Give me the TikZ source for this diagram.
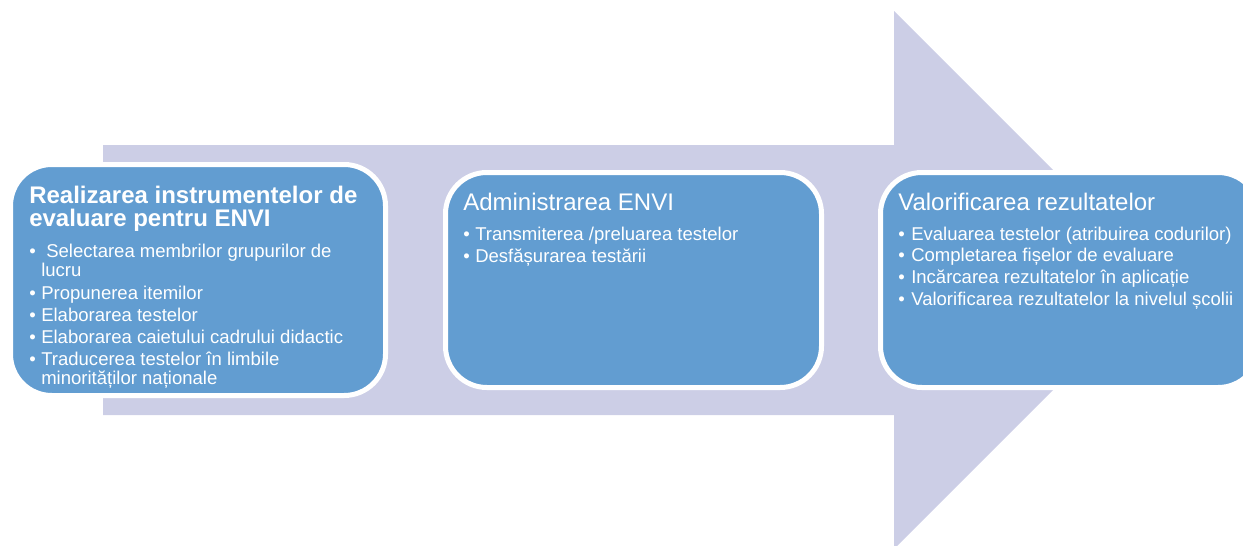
\documentclass[tikz,border=0pt]{standalone}
\usepackage{fontspec}
\setmainfont{Liberation Sans}
\definecolor{lav}{RGB}{204,206,230}
\definecolor{cardblue}{RGB}{98,157,209}
\tikzset{
  arrowfill/.style={fill=lav, draw=none},
  card/.style={rectangle, rounded corners=31pt, fill=cardblue, draw=white, line width=3.75pt, inner sep=0pt},
  ttl/.style={anchor=base west, inner sep=0pt, text=white, font=\fontsize{18pt}{21pt}\selectfont},
  ttlb/.style={ttl, font=\fontsize{18pt}{21pt}\selectfont\bfseries},
  itm/.style={anchor=base west, inner sep=0pt, text=white, font=\fontsize{13.9pt}{16pt}\selectfont},
  bul/.style={itm},
}
\begin{document}
\begin{tikzpicture}[x=0.75pt, y=-0.75pt]
\useasboundingbox (0,0) rectangle (1243,546);
\clip (0,0) rectangle (1243,546);
% big arrow
\path[arrowfill] (103,145) -- (894,145) -- (894,11) -- (1163,280) -- (894,549) -- (894,415) -- (103,415) -- cycle;
% cards
\node[card, minimum width=281.25pt, minimum height=173.25pt] (b1) at (198,280) {};
\node[card, minimum width=282pt, minimum height=161.25pt] (b2) at (633.5,280) {};
\node[card, minimum width=284.25pt, minimum height=161.25pt] (b3) at (1070,280) {};
% card 1
\node[ttlb] (t1a) at (29,203.3) {Realizarea instrumentelor de};
\node[ttlb] (t1b) at (29,226.5) {evaluare pentru ENVI};
\node[bul] (p1a) at (29,257.5) {•};
\node[itm] (i1a) at (46,257.5) {Selectarea membrilor grupurilor de};
\node[itm] (i1a2) at (41,276.7) {lucru};
\node[bul] (p1b) at (29,299) {•};
\node[itm] (i1b) at (41,299) {Propunerea itemilor};
\node[bul] (p1c) at (29,321) {•};
\node[itm] (i1c) at (41,321) {Elaborarea testelor};
\node[bul] (p1d) at (29,343.3) {•};
\node[itm] (i1d) at (41,343.3) {Elaborarea caietului cadrului didactic};
\node[bul] (p1e) at (29,365.7) {•};
\node[itm] (i1e) at (41,365.7) {Traducerea testelor în limbile};
\node[itm] (i1e2) at (41,384) {minorităților naționale};
% card 2
\node[ttl] (t2) at (463,210) {Administrarea ENVI};
\node[bul] (p2a) at (463,240) {•};
\node[itm] (i2a) at (475,240) {Transmiterea /preluarea testelor};
\node[bul] (p2b) at (463,262.5) {•};
\node[itm] (i2b) at (475,262.5) {Desfășurarea testării};
% card 3
\node[ttl] (t3) at (898,210) {Valorificarea rezultatelor};
\node[bul] (p3a) at (898,240) {•};
\node[itm] (i3a) at (911,240) {Evaluarea testelor (atribuirea codurilor)};
\node[bul] (p3b) at (898,261.7) {•};
\node[itm] (i3b) at (911,261.7) {Completarea fișelor de evaluare};
\node[bul] (p3c) at (898,283.3) {•};
\node[itm] (i3c) at (911,283.3) {Incărcarea rezultatelor în aplicație};
\node[bul] (p3d) at (898,305) {•};
\node[itm] (i3d) at (911,305) {Valorificarea rezultatelor la nivelul școlii};
\end{tikzpicture}
\end{document}
